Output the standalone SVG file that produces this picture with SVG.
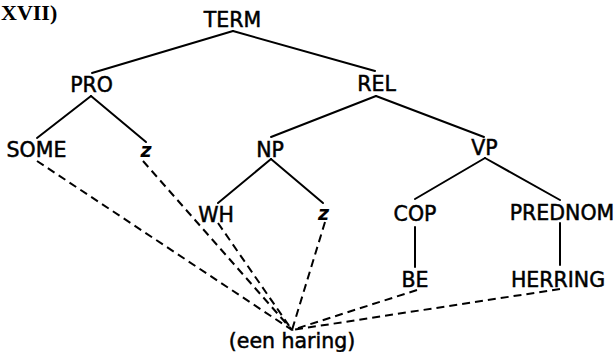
<svg xmlns="http://www.w3.org/2000/svg" width="616" height="352" viewBox="0 0 616 352">
<style>
.t{font-family:"DejaVu Sans","Liberation Sans",sans-serif;font-size:20.5px;fill:#000;stroke:#000;stroke-width:0.5;text-anchor:middle}
.zi{font-family:"DejaVu Sans","Liberation Sans",sans-serif;font-size:19px;font-style:italic;font-weight:bold;fill:#000;text-anchor:middle}
.s{stroke:#000;stroke-width:2;fill:none;stroke-linecap:round}
.d{stroke:#000;stroke-width:2;fill:none;stroke-dasharray:8 5}
</style>
<rect width="616" height="352" fill="#fff"/>
<text x="1" y="20" font-family="Liberation Serif,serif" font-weight="bold" font-size="22">XVII)</text>
<g id="connectors">
<line class="s" x1="233" y1="31" x2="92" y2="73"/>
<line class="s" x1="233" y1="31" x2="375" y2="71"/>
<line class="s" x1="91" y1="96" x2="37" y2="138"/>
<line class="s" x1="91" y1="96" x2="146" y2="142"/>
<line class="s" x1="376" y1="96" x2="271" y2="137"/>
<line class="s" x1="376" y1="96" x2="484" y2="137"/>
<line class="s" x1="271" y1="159" x2="218" y2="203"/>
<line class="s" x1="271" y1="159" x2="323" y2="203"/>
<line class="s" x1="485" y1="158" x2="415" y2="199"/>
<line class="s" x1="485" y1="158" x2="560" y2="200"/>
<line class="s" x1="415" y1="227" x2="415" y2="267"/>
<line class="s" x1="560" y1="223" x2="560" y2="265"/>
<line class="d" x1="37" y1="161" x2="292" y2="330"/>
<line class="d" x1="143" y1="161" x2="292" y2="330"/>
<line class="d" x1="218" y1="223" x2="292" y2="330"/>
<line class="d" x1="325" y1="222" x2="292" y2="330"/>
<line class="d" x1="417" y1="290" x2="292" y2="330"/>
<line class="d" x1="560" y1="289" x2="292" y2="330"/>
</g>
<g id="TERM"><text class="t" x="232.5" y="27">TERM</text></g>
<g id="PRO"><text class="t" x="91.5" y="92">PRO</text></g>
<g id="REL"><text class="t" x="376.5" y="91">REL</text></g>
<g id="SOME"><text class="t" x="36.5" y="157">SOME</text></g>
<g id="z1"><text class="zi" x="146" y="157">z</text></g>
<g id="NP"><text class="t" x="270" y="157">NP</text></g>
<g id="VP"><text class="t" x="484.5" y="155">VP</text></g>
<g id="WH"><text class="t" x="216" y="222">WH</text></g>
<g id="z2"><text class="zi" x="323.5" y="220">z</text></g>
<g id="COP"><text class="t" x="415" y="221">COP</text></g>
<g id="PREDNOM"><text class="t" x="562" y="220">PREDNOM</text></g>
<g id="BE"><text class="t" x="415" y="287">BE</text></g>
<g id="HERRING"><text class="t" x="558" y="287">HERRING</text></g>
<g id="een_haring"><text class="t" x="292" y="348">(een haring)</text></g>
</svg>
